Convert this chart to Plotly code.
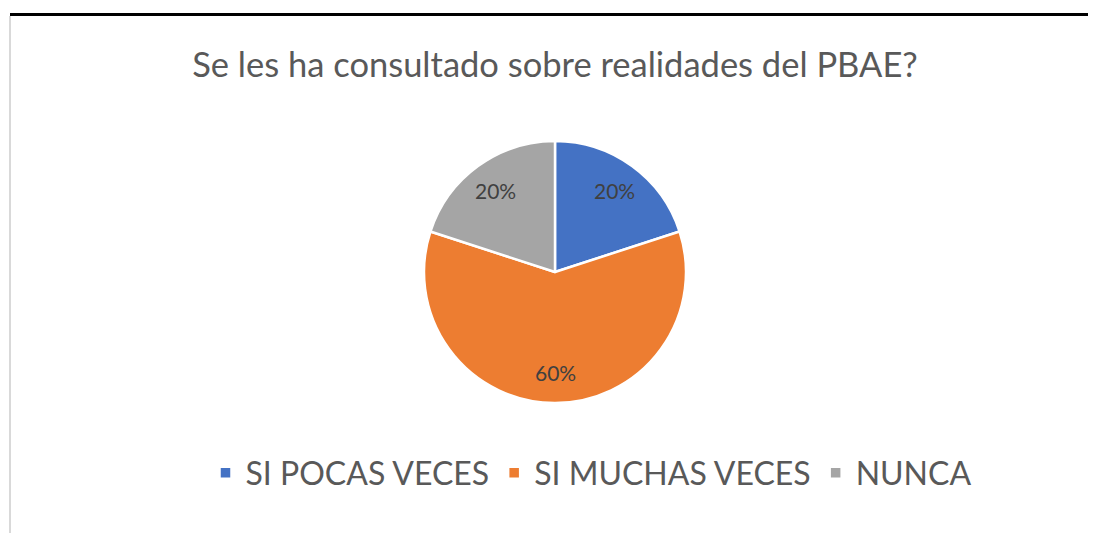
import math
import plotly.graph_objects as go

# Survey answers and their shares
labels = ["SI POCAS VECES", "SI MUCHAS VECES", "NUNCA"]
values = [20, 60, 20]
colors = ["#4472C4", "#ED7D31", "#A5A5A5"]

# page body has an 8px margin, so the figure is a bit smaller than the window
W, H = 1088, 525
OFF = 8
cx, cy, rad = 555 - OFF, 272 - OFF, 131  # pie centre / radius in figure pixels
FONT = "Lato, Open Sans, sans-serif"


def px(x):
    return x / W


def py(y):
    return 1 - y / H


fig = go.Figure()

fig.add_trace(go.Pie(
    labels=labels,
    values=values,
    sort=False,
    direction="clockwise",
    rotation=0,
    marker=dict(colors=colors, line=dict(color="white", width=2.5)),
    textinfo="none",
    domain=dict(x=[px(cx - rad), px(cx + rad)], y=[py(cy + rad), py(cy - rad)]),
    hoverinfo="label+percent",
))

# percentage labels placed along each slice's mid angle
total = sum(values)
acc = 0
annotations = []
for v in values:
    mid = (acc + v / 2) / total * 2 * math.pi
    acc += v
    r = 0.77 * rad
    annotations.append(dict(
        x=px(cx + r * math.sin(mid)),
        y=py(cy - r * math.cos(mid)),
        xref="paper", yref="paper",
        xanchor="center", yanchor="middle",
        text=f"{v / total:.0%}",
        showarrow=False,
        font=dict(size=21, color="#404040", family=FONT),
    ))

fig.update_layout(
    width=W,
    height=H,
    title=dict(
        text="Se les ha consultado sobre realidades del PBAE?",
        x=px(555 - OFF),
        xanchor="center",
        y=py(65 - OFF),
        yanchor="middle",
        font=dict(size=34.5, color="#595959", family=FONT),
    ),
    legend=dict(
        orientation="h",
        x=px(591 - OFF),
        xanchor="center",
        y=py(473 - OFF),
        yanchor="middle",
        font=dict(size=32, color="#595959", family=FONT),
    ),
    annotations=annotations,
    paper_bgcolor="white",
    plot_bgcolor="white",
    margin=dict(l=0, r=0, t=0, b=0),
    shapes=[
        dict(type="line", xref="paper", yref="paper", x0=px(10 - OFF), x1=1,
             y0=py(14.5 - OFF), y1=py(14.5 - OFF), line=dict(color="black", width=3)),
        dict(type="line", xref="paper", yref="paper", x0=px(10 - OFF), x1=px(10 - OFF),
             y0=0, y1=py(16 - OFF), line=dict(color="#D9D9D9", width=2)),
    ],
)

fig.write_html("out.html")
